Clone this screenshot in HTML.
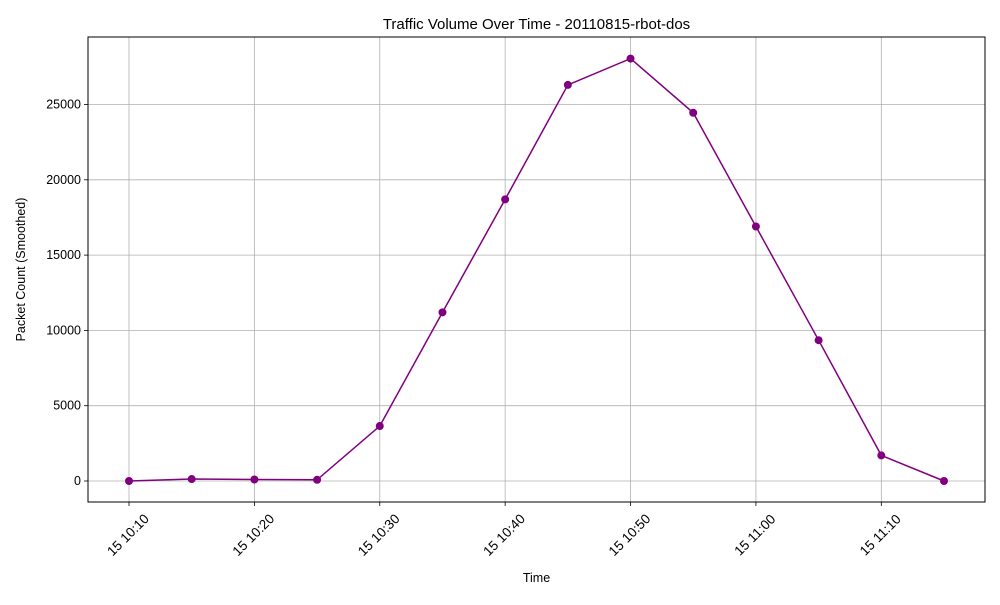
<!DOCTYPE html>
<html><head><meta charset="utf-8"><style>
body{margin:0;background:#fff;font-family:"Liberation Sans","DejaVu Sans",sans-serif}
svg text{font-family:"Liberation Sans","DejaVu Sans",sans-serif;fill:#000}
</style></head><body>
<svg id="chart" width="1000" height="600"></svg>
<script>
const minutes = [0,5,10,15,20,25,30,35,40,45,50,55,60,65];
const packets = [0,130,100,80,3650,11200,18700,26300,28050,24450,16900,9350,1700,0];
const xTickMinutes = [0,10,20,30,40,50,60];
const xTickLabels = ["15 10:10","15 10:20","15 10:30","15 10:40","15 10:50","15 11:00","15 11:10"];
const yTicks = [0,5000,10000,15000,20000,25000];

const L=88,R=985,T=37,B=502;
const xS=m=>129+m*(944-129)/65;
const yS=v=>481-v*(481-104.5)/25000;
const svg=document.getElementById('chart');
const NS='http://www.w3.org/2000/svg';
function mk(t,a,p){const e=document.createElementNS(NS,t);for(const k in a)e.setAttribute(k,a[k]);(p||svg).appendChild(e);return e;}

const grid=mk('g',{});


xTickMinutes.forEach((m,i)=>{
  const x=xS(m);
  mk('line',{x1:x,x2:x,y1:T,y2:B,stroke:'#b0b0b0','stroke-width':0.8},grid);
  mk('line',{x1:x,x2:x,y1:B,y2:B+4,stroke:'#000','stroke-width':0.8});
  const ax=x-1, ay=B+33;
  const t=mk('text',{x:ax,y:ay+4.5,'font-size':13.5,'text-anchor':'middle',transform:`rotate(-45 ${ax} ${ay})`});
  
  
  t.textContent=xTickLabels[i];
});
yTicks.forEach(v=>{
  const y=yS(v);
  mk('line',{x1:L,x2:R,y1:y,y2:y,stroke:'#b0b0b0','stroke-width':0.8},grid);
  mk('line',{x1:L-4,x2:L,y1:y,y2:y,stroke:'#000','stroke-width':0.8});
  const t=mk('text',{x:L-7,y:y+4,'font-size':12.5,'text-anchor':'end'});
  
  
  t.textContent=v;
});
const pts=minutes.map((m,i)=>xS(m)+','+yS(packets[i])).join(' ');
const line=mk('polyline',{points:pts,fill:'none',stroke:'purple','stroke-width':1.5});


minutes.forEach((m,i)=>{
  const c=mk('circle',{cx:xS(m),cy:yS(packets[i]),r:4,fill:'purple'});
  
  
});
const frame=mk('rect',{x:L,y:T,width:R-L,height:B-T,fill:'none',stroke:'#000','stroke-width':1});


const title=mk('text',{x:(L+R)/2,y:29,'font-size':15,'text-anchor':'middle'});


title.textContent='Traffic Volume Over Time - 20110815-rbot-dos';
const xt=mk('text',{x:(L+R)/2,y:582,'font-size':12.5,'text-anchor':'middle'});


xt.textContent='Time';
const yt=mk('text',{x:25,y:(T+B)/2,'font-size':12.5,'text-anchor':'middle',transform:`rotate(-90 25 ${(T+B)/2})`});


yt.textContent='Packet Count (Smoothed)';
</script>
</body></html>
